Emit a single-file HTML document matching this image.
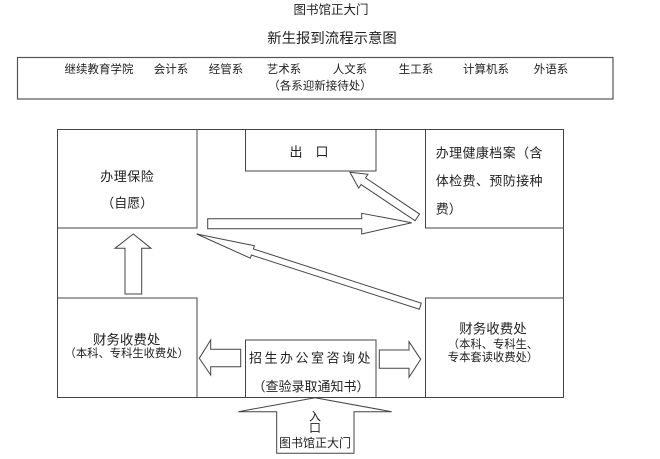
<!DOCTYPE html>
<html><head><meta charset="utf-8"><style>
html,body{margin:0;padding:0;background:#fff;}
svg{display:block;}
text{font-family:"Liberation Sans","Noto Sans CJK SC",sans-serif;fill:#222;}
</style></head><body>
<svg width="660" height="459" viewBox="0 0 660 459" xmlns="http://www.w3.org/2000/svg">
<g fill="none" stroke="#444" stroke-width="1">
<g stroke="none" text-anchor="middle" dominant-baseline="central">
<text x="331" y="10" font-size="12.5">图书馆正大门</text>
<text x="332" y="39" font-size="14.4">新生报到流程示意图</text>
</g>
<rect x="17.5" y="57.5" width="595.5" height="41.5" stroke="#555" stroke-width="1.2"/>
<g font-size="11.5" stroke="none" text-anchor="middle" dominant-baseline="central">
<text x="99" y="70">继续教育学院</text><text x="171" y="70">会计系</text><text x="226" y="70">经管系</text>
<text x="284" y="70">艺术系</text><text x="350" y="70">人文系</text><text x="416" y="70">生工系</text>
<text x="486" y="70">计算机系</text><text x="551" y="70">外语系</text><text x="320" y="86.5">（各系迎新接待处）</text>
</g>
<rect x="57.5" y="129.5" width="506" height="268"/>
<rect x="57.5" y="129.5" width="139.5" height="98.5"/>
<rect x="245.5" y="129.5" width="130.5" height="41.5"/>
<rect x="425.5" y="129.5" width="138" height="98.5"/>
<rect x="57.5" y="298" width="139.5" height="99.5"/>
<rect x="425.5" y="298" width="138" height="99.5"/>
<rect x="245.5" y="340" width="130.5" height="57.5"/>
<!-- up arrow -->
<polygon points="125,294 141.7,294 141.7,248.3 151,248.3 133.3,234 115,248.3 125,248.3"/>
<!-- right arrow -->
<polygon points="207.7,218.7 361.7,218.7 361.7,213.3 411.7,222.7 361.7,234 361.7,228.7 207.7,228.7"/>
<!-- long diagonal arrow -->
<g transform="translate(196.7,234) rotate(17.9)">
<polygon points="0,0 58.5,-6.5 58.5,-3.2 235,-3.2 235,3.2 58.5,3.2 58.5,6.5"/>
</g>
<!-- exit arrow -->
<g transform="translate(350,172.3) rotate(33.8)">
<polygon points="0,0 16,-8.3 16,-4 81,-4 81,4 16,4 16,8.3"/>
</g>
<!-- left arrow -->
<polygon points="240.7,349.3 210.7,349.3 210.7,340 199.3,358.3 210.7,375 210.7,366.7 240.7,366.7"/>
<!-- right arrow bottom -->
<polygon points="379.3,350 409,350 409,341.7 420.7,359.3 409,377.3 409,368.3 379.3,368.3"/>
<!-- entrance arrow -->
<polygon points="315,397.7 391.7,411.7 354,411.7 354,453.3 276.7,453.3 276.7,411.7 238.3,411.7"/>
<g stroke="none" font-size="13" text-anchor="middle" dominant-baseline="central">
<text x="127.3" y="176.7" letter-spacing="0.5">办理保险</text>
<text x="127.3" y="203">（自愿）</text>
<text x="309" y="152">出　口</text>
<text x="435.7" y="153" text-anchor="start" letter-spacing="0.4">办理健康档案（含</text>
<text x="435.7" y="181" text-anchor="start" letter-spacing="0.4">体检费、预防接种</text>
<text x="435.7" y="209" text-anchor="start">费）</text>
<text x="126.7" y="340" font-size="13.5">财务收费处</text>
<text x="126.7" y="354" font-size="11.3">（本科、专科生收费处）</text>
<text x="493" y="329" font-size="13.5">财务收费处</text>
<text x="493" y="345" font-size="11.3">（本科、专科生、</text>
<text x="493" y="358" font-size="11.3">专本套读收费处）</text>
<text x="311" y="358" letter-spacing="2.5">招生办公室咨询处</text>
<text x="311" y="386.7">（查验录取通知书）</text>
<text x="315" y="416.7" font-size="12">入</text>
<text x="315" y="428" font-size="12">口</text>
<text x="315" y="443" font-size="12">图书馆正大门</text>
</g>
</g>
</svg>
</body></html>
